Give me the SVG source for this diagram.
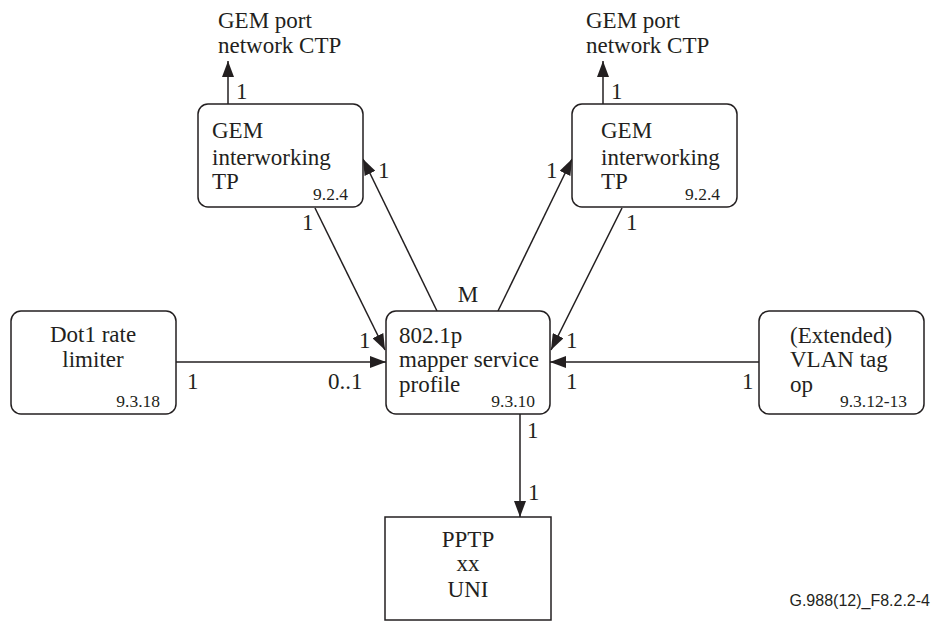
<svg xmlns="http://www.w3.org/2000/svg" width="936" height="622" viewBox="0 0 936 622">
<defs>
<marker id="ah" markerUnits="userSpaceOnUse" markerWidth="16" markerHeight="12" viewBox="0 0 16 12" refX="16" refY="6" orient="auto">
<path d="M0,0 L16,6 L0,12 Z" fill="#231f20"/>
</marker>
<style>
.box{fill:#fff;stroke:#231f20;stroke-width:1.5}
.t{font-family:"Liberation Serif","Times New Roman",serif;font-size:23px;fill:#231f20}
.s{font-family:"Liberation Serif","Times New Roman",serif;font-size:17.5px;fill:#231f20}
.c{stroke:#231f20;stroke-width:1.5;fill:none}
.a{marker-end:url(#ah)}
</style>
</defs>
<rect width="936" height="622" fill="#fff"/>
<g id="connectors">
<line class="c a" x1="228" y1="104" x2="228" y2="61"/>
<line class="c a" x1="603" y1="104" x2="603" y2="61"/>
<line class="c a" x1="315" y1="208" x2="385" y2="350"/>
<line class="c a" x1="437" y1="311" x2="363" y2="159"/>
<line class="c a" x1="498" y1="311" x2="572" y2="159"/>
<line class="c a" x1="622" y1="208" x2="551" y2="350"/>
<line class="c a" x1="176" y1="362" x2="386" y2="362"/>
<line class="c a" x1="759" y1="362" x2="550" y2="362"/>
<line class="c a" x1="520" y1="414" x2="520" y2="517"/>
<text class="t" x="236" y="99">1</text>
<text class="t" x="611" y="99">1</text>
<text class="t" x="378" y="178">1</text>
<text class="t" x="546" y="178">1</text>
<text class="t" x="302" y="230">1</text>
<text class="t" x="626" y="230">1</text>
<text class="t" x="468" y="302" text-anchor="middle">M</text>
<text class="t" x="359" y="348">1</text>
<text class="t" x="566" y="348">1</text>
<text class="t" x="566" y="389">1</text>
<text class="t" x="187" y="389">1</text>
<text class="t" x="328" y="389">0..1</text>
<text class="t" x="742" y="389">1</text>
<text class="t" x="527" y="438">1</text>
<text class="t" x="528" y="500">1</text>
</g>
<g id="gem-ctp-left">
<text class="t" x="218" y="28">GEM port</text>
<text class="t" x="218" y="53">network CTP</text>
</g>
<g id="gem-ctp-right">
<text class="t" x="586" y="28">GEM port</text>
<text class="t" x="586" y="53">network CTP</text>
</g>
<g id="gem-iw-left">
<rect class="box" x="198" y="104" width="165" height="103" rx="10"/>
<text class="t" x="212" y="138">GEM</text>
<text class="t" x="212" y="165">interworking</text>
<text class="t" x="212" y="189">TP</text>
<text class="s" x="348" y="200" text-anchor="end">9.2.4</text>
</g>
<g id="gem-iw-right">
<rect class="box" x="572" y="104" width="165" height="103" rx="10"/>
<text class="t" x="601" y="138">GEM</text>
<text class="t" x="601" y="165">interworking</text>
<text class="t" x="601" y="189">TP</text>
<text class="s" x="720" y="200" text-anchor="end">9.2.4</text>
</g>
<g id="dot1">
<rect class="box" x="11" y="311" width="165" height="103" rx="10"/>
<text class="t" x="93" y="342" text-anchor="middle">Dot1 rate</text>
<text class="t" x="93" y="367" text-anchor="middle">limiter</text>
<text class="s" x="160" y="407" text-anchor="end">9.3.18</text>
</g>
<g id="mapper">
<rect class="box" x="386" y="311" width="164" height="103" rx="10"/>
<text class="t" x="399" y="343">802.1p</text>
<text class="t" x="399" y="367">mapper service</text>
<text class="t" x="399" y="392">profile</text>
<text class="s" x="535" y="407" text-anchor="end">9.3.10</text>
</g>
<g id="vlan">
<rect class="box" x="759" y="311" width="165" height="103" rx="10"/>
<text class="t" x="790" y="343">(Extended)</text>
<text class="t" x="790" y="367">VLAN tag</text>
<text class="t" x="790" y="392">op</text>
<text class="s" x="907" y="407" text-anchor="end">9.3.12-13</text>
</g>
<g id="pptp">
<rect class="box" x="385" y="517" width="166" height="103"/>
<text class="t" x="468" y="547" text-anchor="middle">PPTP</text>
<text class="t" x="468" y="571" text-anchor="middle">xx</text>
<text class="t" x="468" y="597" text-anchor="middle">UNI</text>
</g>
<text x="930" y="606" text-anchor="end" font-family="Liberation Sans, Arial, sans-serif" font-size="16" fill="#231f20">G.988(12)_F8.2.2-4</text>
</svg>
